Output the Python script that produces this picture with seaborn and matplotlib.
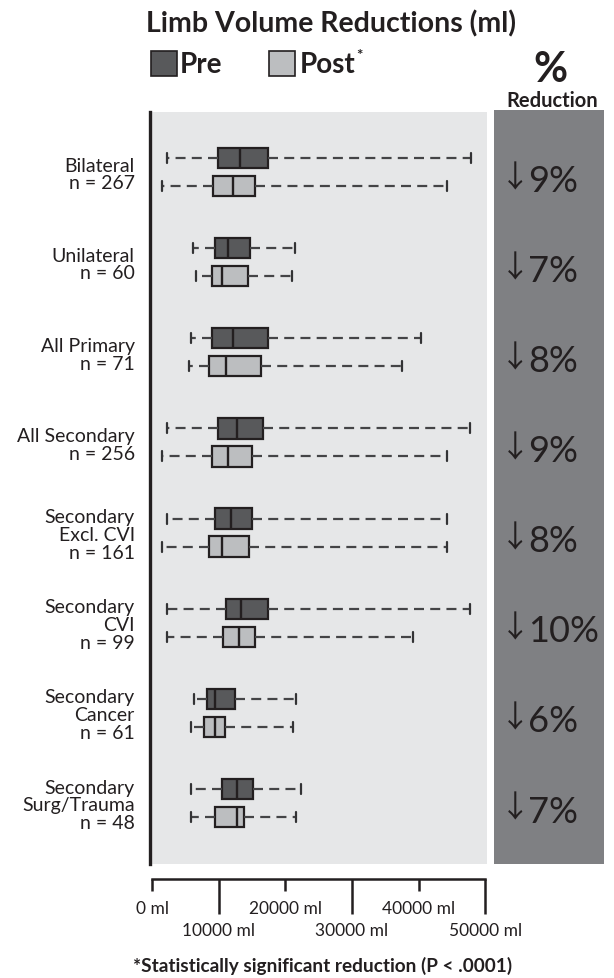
import numpy as np
import pandas as pd
import matplotlib
matplotlib.use("Agg")
import matplotlib.pyplot as plt
import matplotlib.transforms as mtransforms
from matplotlib.patches import Rectangle
import seaborn as sns

# ---------------- data (five-number summaries, ml) ----------------
groups = ["Bilateral\nn = 267", "Unilateral\nn = 60", "All Primary\nn = 71",
          "All Secondary\nn = 256", "Secondary\nExcl. CVI\nn = 161",
          "Secondary\nCVI\nn = 99", "Secondary\nCancer\nn = 61",
          "Secondary\nSurg/Trauma\nn = 48"]
pre_low  = [2300, 6200, 5800, 2300, 2300, 2200, 6250, 5800]
pre_q1   = [9900, 9500, 9000, 9850, 9450, 11050, 8200, 10550]
pre_med  = [13200, 11350, 12150, 12700, 11800, 13400, 9450, 12700]
pre_q3   = [17450, 14700, 17450, 16700, 15050, 17450, 12400, 15150]
pre_high = [47800, 21500, 40350, 47700, 44200, 47700, 21550, 22350]
post_low  = [1450, 6650, 5500, 1450, 1450, 2200, 5800, 5800]
post_q1   = [9150, 9000, 8600, 9000, 8600, 10600, 7750, 9450]
post_med  = [12150, 10550, 11050, 11400, 10550, 13050, 9450, 12700]
post_q3   = [15500, 14350, 16300, 15050, 14600, 15450, 10950, 13750]
post_high = [44200, 21050, 37550, 44200, 44200, 39100, 21200, 21650]
pct_reduction = [9, 7, 8, 9, 8, 10, 6, 7]
phases = ["Pre", "Post"]
xticks_major = [10000, 30000, 50000]
xticks_minor = [0, 20000, 40000]

rows = []
for i, g in enumerate(groups):
    for v in (pre_low[i], pre_q1[i], pre_med[i], pre_q3[i], pre_high[i]):
        rows.append((g, "Pre", v))
    for v in (post_low[i], post_q1[i], post_med[i], post_q3[i], post_high[i]):
        rows.append((g, "Post", v))
df = pd.DataFrame(rows, columns=["group", "phase", "volume"])

# ---------------- styling ----------------
sns.set_style("white")
FONT = ["Lato", "DejaVu Sans"]
plt.rcParams["font.family"] = FONT
DARK = "#231f20"
PRE_C = "#58595b"
POST_C = "#bcbec0"
BG = "#e6e7e8"
PANEL = "#7f8083"

W, H = 614, 979
fig = plt.figure(figsize=(W / 100, H / 100), dpi=100)

def fx(px):
    return px / W

def fy(py):
    return 1 - py / H

ax = fig.add_axes([fx(150), fy(865), fx(487) - fx(150), fy(113) - fy(865)])
ax.set_facecolor(BG)

sns.boxplot(data=df, x="volume", y="group", hue="phase", order=groups,
            hue_order=phases, palette={"Pre": PRE_C, "Post": POST_C},
            orient="h", width=0.622, gap=0.28, whis=(0, 100), saturation=1,
            linecolor=DARK, linewidth=1.6, legend=False, ax=ax,
            whiskerprops=dict(linestyle=(0, (4.5, 2.8)), color="#444446", linewidth=1.6),
            capprops=dict(color="#333335", linewidth=1.6),
            medianprops=dict(color=DARK, linewidth=1.7),
            showfliers=False)

ax.set_xlim(-300, 50250)
ax.set_ylim(7.677, -0.666)
ax.set_xlabel("")
ax.set_ylabel("")

for s in ("top", "right"):
    ax.spines[s].set_visible(False)
ax.spines["left"].set_color(DARK)
ax.spines["left"].set_linewidth(2.4)
ax.spines["bottom"].set_position(("outward", 11))
ax.spines["bottom"].set_bounds(0, 50000)
ax.spines["bottom"].set_color(DARK)
ax.spines["bottom"].set_linewidth(1.8)

ax.tick_params(axis="y", length=0, pad=11, labelsize=14, labelcolor=DARK)
for lab in ax.get_yticklabels():
    lab.set_multialignment("right")
    lab.set_linespacing(1.05)

ax.set_xticks(xticks_major)
ax.set_xticklabels([f"{v} ml" for v in xticks_major])
ax.set_xticks(xticks_minor, minor=True)
ax.set_xticklabels([f"{v} ml" for v in xticks_minor], minor=True)
ax.tick_params(axis="x", which="major", direction="out", length=25, width=1.8,
               color=DARK, pad=6, labelsize=12.5, labelcolor=DARK, bottom=True)
ax.tick_params(axis="x", which="minor", direction="out", length=8.6, width=1.8,
               color=DARK, pad=6, labelsize=12.5, labelcolor=DARK, bottom=True)

# percent reduction panel
pax = fig.add_axes([fx(494), fy(865), fx(604) - fx(494), fy(111) - fy(865)])
pax.set_facecolor(PANEL)
pax.set_xticks([])
pax.set_yticks([])
for s in pax.spines.values():
    s.set_visible(False)

trans = mtransforms.blended_transform_factory(pax.transAxes, ax.transData)
for i, p in enumerate(pct_reduction):
    pax.text(0.19, i + 0.06, "\u2193", transform=trans, ha="center",
             va="center", fontsize=22, color=DARK,
             family=["Noto Sans CJK SC", "DejaVu Sans"], clip_on=False)
    pax.text(0.31, i + 0.09, f"{p}%", transform=trans, ha="left",
             va="center", fontsize=26, color=DARK, family=FONT, clip_on=False)

# header
fig.text(fx(331), fy(24), "Limb Volume Reductions (ml)", ha="center", va="center",
         fontsize=20.5, fontweight="bold", color=DARK)
fig.add_artist(Rectangle((fx(151), fy(77)), fx(26), 25 / H, transform=fig.transFigure,
                         facecolor=PRE_C, edgecolor=DARK, linewidth=1.2))
fig.text(fx(180), fy(65), "Pre", ha="left", va="center", fontsize=20,
         fontweight="bold", color=DARK)
fig.add_artist(Rectangle((fx(269), fy(77)), fx(26), 25 / H, transform=fig.transFigure,
                         facecolor=POST_C, edgecolor=DARK, linewidth=1.2))
fig.text(fx(300), fy(65), "Post", ha="left", va="center", fontsize=20,
         fontweight="bold", color=DARK)
fig.text(fx(356), fy(56), "*", ha="left", va="center", fontsize=11,
         fontweight="bold", color=DARK)
fig.text(fx(550), fy(70), "%", ha="center", va="center", fontsize=30,
         fontweight="bold", color=DARK)
fig.text(fx(552), fy(101), "Reduction", ha="center", va="center", fontsize=14.5,
         fontweight="bold", color=DARK)

fig.text(fx(323), fy(966), "*Statistically significant reduction (P < .0001)",
         ha="center", va="center", fontsize=13.7, fontweight="bold", color=DARK)

fig.savefig("out.png", dpi=100)
